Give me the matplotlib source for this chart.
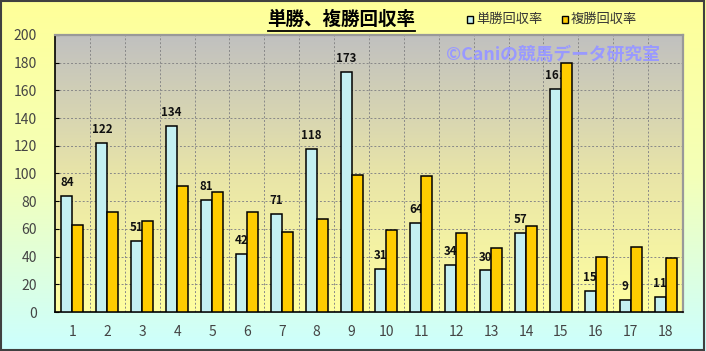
import numpy as np
import matplotlib
matplotlib.use('Agg')
import matplotlib.pyplot as plt
from matplotlib.colors import LinearSegmentedColormap
from matplotlib.patches import Rectangle
from matplotlib.lines import Line2D

plt.rcParams['font.family'] = ['Noto Sans CJK JP', 'DejaVu Sans']

# horse numbers and return rates (%)
horses = list(range(1, 19))
tansho = [84, 122, 51, 134, 81, 42, 71, 118, 173, 31, 64, 34, 30, 57, 161, 15, 9, 11]
fukusho = [63, 72, 66, 91, 87, 72, 58, 67, 99, 59, 98, 57, 46, 62, 180, 40, 47, 39]
series_names = ['単勝回収率', '複勝回収率']
title = '単勝、複勝回収率'
watermark = '©Caniの競馬データ研究室'

W, H = 706, 351
fig = plt.figure(figsize=(W / 100, H / 100), dpi=100)

# figure background: yellow -> light cyan
bg = fig.add_axes([0, 0, 1, 1], zorder=-10)
bg_cmap = LinearSegmentedColormap.from_list('bg', ['#FFFF99', '#F4FFB8', '#CCFFFF'])
bg.imshow(np.linspace(0, 1, 256).reshape(-1, 1), cmap=bg_cmap, aspect='auto',
          extent=[0, 1, 0, 1], origin='upper')
bg.set_xlim(0, 1)
bg.set_ylim(0, 1)
bg.axis('off')
bg.add_patch(Rectangle((0.002, 0.004), 0.995, 0.992, transform=bg.transAxes,
                       fill=False, edgecolor='#404040', lw=1.5))

left, right, top, bottom = 55, 683, 35, 312
ax = fig.add_axes([left / W, 1 - bottom / H, (right - left) / W, (bottom - top) / H])
ax.patch.set_visible(False)

# plot area gradient: gray at top -> pale yellow at bottom
pa_cmap = LinearSegmentedColormap.from_list('pa', ['#C0C0C0', '#E8E4A8', '#FFFFA0'])
ax.imshow(np.linspace(0, 1, 256).reshape(-1, 1), cmap=pa_cmap, aspect='auto',
          extent=[0.5, 18.5, 0, 200], origin='upper', zorder=0)

x = np.array(horses)
w = 0.315
ax.bar(x - w / 2, tansho, width=w, color='#C4F0F2', edgecolor='black', lw=1.1, zorder=3)
ax.bar(x + w / 2, fukusho, width=w, color='#FFCC00', edgecolor='black', lw=1.1, zorder=3)

for xi, v in zip(x, tansho):
    ax.text(xi - w / 2, v + 5, str(v), ha='center', va='bottom', fontsize=8.3,
            fontweight='bold', color='#111111', zorder=2.5)

ax.set_xlim(0.5, 18.5)
ax.set_ylim(0, 200)
ax.set_yticks(range(0, 201, 20))
ax.set_xticks(x)
ax.set_xticklabels([str(h) for h in horses])
ax.set_xticks(np.arange(1.5, 18.5, 1), minor=True)
ax.tick_params(axis='x', which='both', length=0, pad=9, labelsize=10, labelcolor='#444444')
ax.tick_params(axis='y', length=3, direction='in', pad=13, labelsize=10, labelcolor='#444444')

ax.grid(axis='y', color='#888888', ls=(0, (2, 2)), lw=0.7, zorder=1)
ax.grid(axis='x', which='minor', color='#888888', ls=(0, (2, 2)), lw=0.7, zorder=1)
ax.set_axisbelow(True)

for s in ['left', 'bottom']:
    ax.spines[s].set_color('black')
    ax.spines[s].set_linewidth(1.2)
for s in ['top', 'right']:
    ax.spines[s].set_color('#999999')
    ax.spines[s].set_linewidth(1.6)

# watermark
ax.text((660 - left) / (right - left), 0.93, watermark, transform=ax.transAxes,
        ha='right', va='center', fontsize=12.8, fontweight='bold', color='#9999FF', zorder=5)

# title, underlined
fig.text(341 / W, 1 - 19 / H, title, ha='center', va='center', fontsize=13.3,
         fontweight='bold', color='black')
fig.add_artist(Line2D([268 / W, 415 / W], [1 - 31 / H, 1 - 31 / H], color='black', lw=1.3))

# legend
for lx, name, col in [(470, series_names[0], '#C4F0F2'), (565, series_names[1], '#FFCC00')]:
    fig.add_artist(Rectangle((lx / W - 3 / W, 1 - 23 / H), 6 / W, 7 / H, transform=fig.transFigure,
                             facecolor=col, edgecolor='black', lw=1.0))
    fig.text((lx + 6) / W, 1 - 19 / H, name, ha='left', va='center', fontsize=9.5, color='#333333')

fig.savefig('out.png', dpi=100)
